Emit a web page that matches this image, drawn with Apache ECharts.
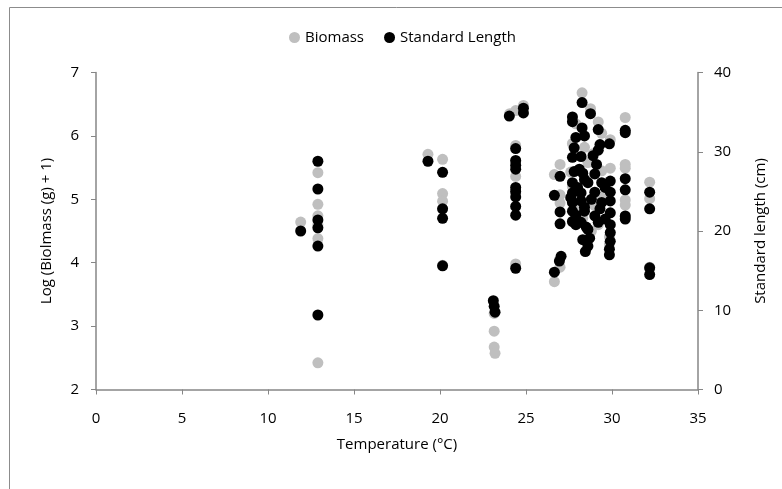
<!DOCTYPE html>
<html>
<head>
<meta charset="utf-8">
<script src="https://cdn.jsdelivr.net/npm/echarts@6/dist/echarts.min.js"></script>
<style>
html,body{margin:0;padding:0;background:#fff;}
#chart{width:782px;height:489px;}
</style>
</head>
<body>
<div id="chart"></div>
<script>
var xTicks = [0, 5, 10, 15, 20, 25, 30, 35];
var biomassTickLabels = [2, 3, 4, 5, 6, 7];
var lengthTickLabels = [0, 10, 20, 30, 40];

var biomassTemp = [
  11.9,
  12.9, 12.9, 12.9, 12.9, 12.9, 12.9,
  19.3,
  20.15, 20.15, 20.15, 20.15, 20.15,
  23.15, 23.15, 23.2, 23.15,
  24.05,
  24.4, 24.4, 24.4, 24.4, 24.4, 24.4,
  24.85,
  26.65, 26.65,
  26.98, 26.98, 26.98, 26.98,
  28.26, 28.75, 29.2, 27.9, 29.4, 29.9, 27.7, 28.4, 28.9, 29.9, 27.6, 29.4, 28.6, 29.4, 28.6, 29.85, 29.85, 28.2,
  27.7, 28.0, 28.3, 27.8, 29.0, 28.5, 29.2, 28.8,
  30.77, 30.77, 30.77, 30.77, 30.77, 30.77,
  32.19, 32.19, 32.19, 32.19
];
var biomassValue = [
  4.64,
  5.42, 4.92, 4.74, 4.38, 2.42, 4.6,
  5.71,
  5.63, 5.09, 4.97, 3.96, 4.85,
  2.92, 2.67, 2.57, 3.2,
  6.35,
  6.4, 5.85, 5.36, 3.98, 5.6, 5.1,
  6.48,
  5.39, 3.7,
  5.55, 5.07, 4.94, 3.93,
  6.68, 6.43, 6.22, 6.19, 6.04, 5.94, 5.88, 5.82, 5.72, 5.49, 5.43, 5.45, 5.58, 5.04, 4.96, 4.41, 4.3, 4.9,
  5.2, 5.0, 4.7, 4.8, 4.9, 5.3, 4.6, 4.5,
  6.29, 5.55, 5.49, 4.99, 4.91, 4.73,
  5.27, 5.01, 3.93, 3.9
];

var lengthTemp = [
  11.9,
  12.9, 12.9, 12.9, 12.9, 12.9, 12.9,
  19.3,
  20.15, 20.15, 20.15, 20.15,
  23.1, 23.15, 23.2,
  24.03, 24.85, 24.85,
  24.4, 24.4, 24.4, 24.4, 24.4, 24.4, 24.4, 24.4, 24.4, 24.4,
  26.65, 26.65,
  26.98, 26.98, 26.98, 27.04, 26.94,
  27.7, 28.26, 28.75, 27.7, 28.26, 29.2, 27.9, 28.4, 29.3, 29.85, 29.2, 27.7, 28.2, 29.1, 27.8, 28.3, 29.0,
  29.4, 29.9, 27.7, 28.6, 27.7, 28.2, 29.0, 29.9, 27.7, 28.2, 29.4, 29.9, 27.7, 28.4, 29.0, 29.9,
  27.7, 28.2, 29.2, 29.9, 27.9, 28.6, 29.9, 28.3, 28.7, 29.9, 28.6, 28.45, 29.85, 29.85,
  28.0, 28.4, 27.9, 28.8, 29.6, 28.1, 27.6, 28.5, 29.3, 28.9, 27.8, 28.4, 29.6,
  30.77, 30.77, 30.77, 30.77, 30.77, 30.77,
  32.19, 32.19, 32.19, 32.19
];
var lengthValue = [
  20.0,
  28.8, 25.3, 21.4, 20.4, 18.1, 9.4,
  28.8,
  27.4, 22.8, 21.6, 15.6,
  11.2, 10.5, 9.75,
  34.5, 35.5, 34.9,
  30.4, 28.9, 28.3, 27.8, 25.5, 25.0, 24.3, 23.1, 22.0, 15.3,
  24.5, 14.8,
  26.9, 22.4, 20.9, 16.8, 16.2,
  34.4, 36.2, 34.8, 33.8, 33.0, 32.8, 31.8, 32.0, 30.9, 31.0, 30.2, 29.3, 29.4, 28.4, 27.5, 27.3, 27.2,
  26.1, 26.3, 26.1, 26.1, 24.8, 24.8, 24.9, 24.9, 23.6, 23.8, 23.6, 23.8, 22.5, 22.5, 21.9, 22.3,
  21.2, 21.1, 21.1, 20.8, 20.8, 20.2, 19.8, 18.9, 19.1, 18.7, 18.1, 17.4, 17.7, 17.0,
  25.5, 23.0, 22.0, 24.0, 25.5, 27.8, 24.2, 20.5, 22.8, 29.5, 30.5, 26.5, 21.5,
  32.7, 32.4, 26.6, 25.2, 21.9, 21.5,
  24.9, 22.8, 15.35, 14.5
];

function zip(a, b) { return a.map(function (v, i) { return [v, b[i]]; }); }

var FONT = 'Open Sans';
var FS = 15;
var AXIS_COLOR = '#868686';
var TEXT_COLOR = '#000';

var chart = echarts.init(document.getElementById('chart'));
chart.setOption({
  animation: false,
  backgroundColor: '#fff',
  textStyle: { fontFamily: FONT },
  graphic: [{
    type: 'rect',
    shape: { x: 9.5, y: 7.5, width: 800, height: 520 },
    style: { fill: 'none', stroke: '#8c8c8c', lineWidth: 1 },
    silent: true, z: -10
  }],
  legend: {
    top: 25, left: 284,
    itemWidth: 11, itemHeight: 11, itemGap: 20,
    icon: 'circle',
    textStyle: { fontFamily: FONT, fontSize: FS, color: TEXT_COLOR },
    data: ['Biomass', 'Standard Length']
  },
  grid: { left: 96, right: 84, top: 72.5, bottom: 99.5, containLabel: false },
  xAxis: {
    type: 'value', min: xTicks[0], max: xTicks[xTicks.length - 1], interval: 5,
    name: 'Temperature (°C)', nameLocation: 'middle', nameGap: 48,
    nameTextStyle: { fontFamily: FONT, fontSize: FS, color: TEXT_COLOR },
    axisLine: { show: true, onZero: false, lineStyle: { color: AXIS_COLOR, width: 1.5 } },
    axisTick: { show: true, length: 5, lineStyle: { color: AXIS_COLOR } },
    axisLabel: { fontFamily: FONT, fontSize: FS, color: TEXT_COLOR, margin: 22 },
    splitLine: { show: false }
  },
  yAxis: [{
    type: 'value', min: biomassTickLabels[0], max: biomassTickLabels[biomassTickLabels.length - 1], interval: 1,
    name: 'Log (Biolmass (g) + 1)', nameLocation: 'middle', nameGap: 42, nameRotate: 90,
    nameTextStyle: { fontFamily: FONT, fontSize: FS, color: TEXT_COLOR },
    axisLine: { show: true, lineStyle: { color: AXIS_COLOR, width: 1.5 } },
    axisTick: { show: true, length: 5, lineStyle: { color: AXIS_COLOR } },
    axisLabel: { fontFamily: FONT, fontSize: FS, color: TEXT_COLOR, margin: 17 },
    splitLine: { show: false }
  }, {
    type: 'value', min: lengthTickLabels[0], max: lengthTickLabels[lengthTickLabels.length - 1], interval: 10,
    position: 'right',
    name: 'Standard length (cm)', nameLocation: 'middle', nameGap: 55, nameRotate: 90,
    nameTextStyle: { fontFamily: FONT, fontSize: FS, color: TEXT_COLOR },
    axisLine: { show: true, lineStyle: { color: AXIS_COLOR, width: 1.5 } },
    axisTick: { show: true, length: 5, lineStyle: { color: AXIS_COLOR } },
    axisLabel: { fontFamily: FONT, fontSize: FS, color: TEXT_COLOR, margin: 16 },
    splitLine: { show: false }
  }],
  series: [{
    name: 'Biomass', type: 'scatter', yAxisIndex: 0,
    symbolSize: 11,
    itemStyle: { color: '#bfbfbf', opacity: 1 },
    data: zip(biomassTemp, biomassValue), z: 2
  }, {
    name: 'Standard Length', type: 'scatter', yAxisIndex: 1,
    symbolSize: 11,
    itemStyle: { color: '#000000', opacity: 1 },
    data: zip(lengthTemp, lengthValue), z: 3
  }]
});
</script>
</body>
</html>
